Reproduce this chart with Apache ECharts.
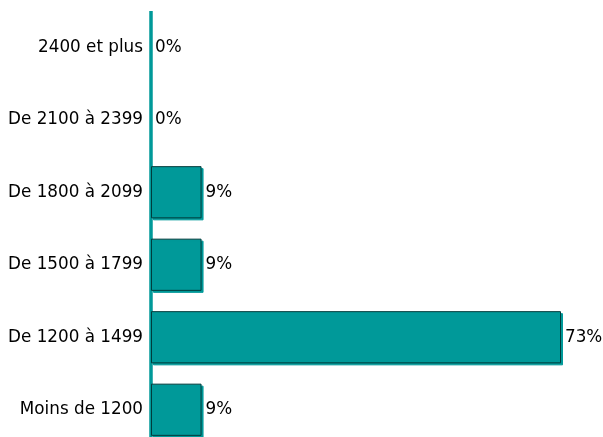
<!DOCTYPE html>
<html><head><meta charset="utf-8">
<script src="https://cdn.jsdelivr.net/npm/echarts@6/dist/echarts.min.js"></script>
<style>html,body{margin:0;padding:0;background:#fff;overflow:hidden}#c{width:603px;height:446px}</style>
</head><body><div id="c"></div>
<script>
const categories = ["Moins de 1200", "De 1200 à 1499", "De 1500 à 1799", "De 1800 à 2099", "De 2100 à 2399", "2400 et plus"];
const values = [9, 73, 9, 9, 0, 0];

const seriesData = values.map(v => v === 0
  ? {value: v, itemStyle: {borderWidth: 0, shadowColor: 'transparent'}}
  : v);

const chart = echarts.init(document.getElementById('c'), null, {renderer: 'canvas'});
chart.setOption({
  animation: false,
  grid: {left: 151, top: 11, bottom: 0, width: 410},
  xAxis: {type: 'value', min: 0, max: 73, show: false},
  yAxis: {
    type: 'category', data: categories,
    axisLine: {show: true, lineStyle: {color: '#009999', width: 3.5, cap: 'butt'}},
    axisTick: {show: false},
    axisLabel: {color: '#000', fontFamily: 'DejaVu Sans', fontSize: 16.8, margin: 8}
  },
  series: [{
    type: 'bar', data: seriesData, barCategoryGap: '28%',
    itemStyle: {color: '#009999', borderColor: '#003c3c', borderWidth: 1,
      shadowColor: '#009999', shadowOffsetX: 2, shadowOffsetY: 2, shadowBlur: 0},
    label: {show: true, position: 'right', distance: 4, formatter: '{c}%',
      color: '#000', fontFamily: 'DejaVu Sans', fontSize: 16.8}
  }]
});
</script></body></html>
